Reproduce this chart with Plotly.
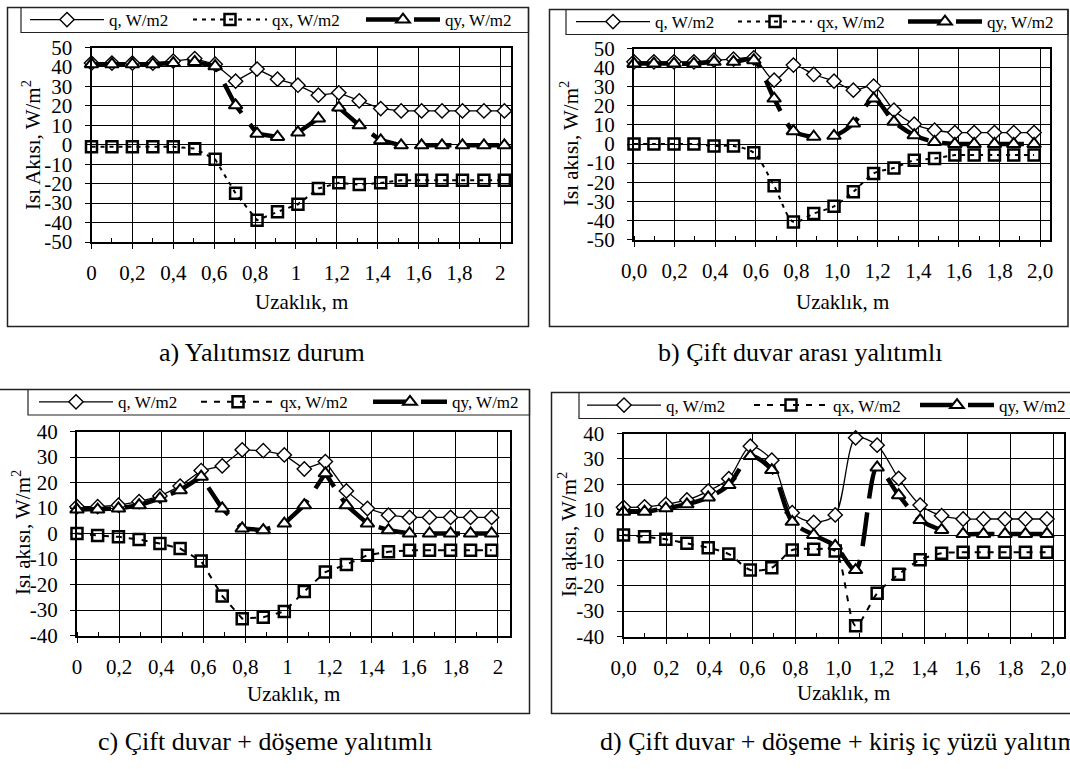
import plotly.graph_objects as go

W, H = 1070, 769
FONT = "Times New Roman, Liberation Serif, serif"

# ---------------- data ----------------
x_a = [0, 0.1, 0.2, 0.3, 0.4, 0.505, 0.605, 0.705, 0.81, 0.91, 1.01,
       1.11, 1.21, 1.31, 1.415, 1.515, 1.615, 1.715, 1.815, 1.92, 2.02]
x_bcd = [0, 0.098, 0.197, 0.295, 0.394, 0.49, 0.59, 0.69, 0.785, 0.885, 0.985,
         1.08, 1.18, 1.28, 1.38, 1.48, 1.58, 1.675, 1.775, 1.87, 1.97]

q_a = [42, 42, 42, 42, 43, 44.3, 41.4, 32.7, 38.9, 33.7, 30.6,
       25.5, 26.7, 22.6, 18.6, 17.4, 17.4, 17.4, 17.4, 17.4, 17.4]
qx_a = [-1, -1, -1, -1, -1, -2, -7.5, -25, -38.8, -34.5, -30.6,
        -22.5, -19.6, -20.5, -19.6, -18.3, -18.3, -18.3, -18.3, -18.3, -18.3]
qy_a = [41.4, 41.4, 41.4, 41.4, 42, 42.6, 40.4, 20.3, 5.7, 4, 6.3,
        13.5, 19.1, 10, 2.3, -0.3, -0.3, -0.3, -0.3, -0.3, -0.3]

q_b = [43, 43, 43, 43, 43.9, 44.4, 45.1, 33.4, 41.3, 36.4, 32.9,
       28.2, 30.3, 17.7, 10.4, 7.2, 6, 6, 6, 6, 6]
qx_b = [0, 0, 0, 0, -1, -1, -4.6, -21.9, -40.8, -36.4, -32.6,
        -25, -15.4, -12.5, -8.5, -7.6, -5.8, -5.8, -5.8, -5.8, -5.8]
qy_b = [42.1, 42.1, 42.1, 42.1, 43, 43, 43.9, 23.8, 6.7, 3.8, 4.3,
        10.7, 23.8, 11.6, 4.6, 1.1, 0, 0, 0, 0, 0]

q_c = [10.5, 10.5, 11.1, 12.5, 14.7, 18.6, 24.7, 26.5, 32.8, 32.5, 30.8,
       25.3, 28.2, 16.7, 9.8, 7.2, 6.3, 6.3, 6.3, 6.3, 6.3]
qx_c = [0, -0.8, -1.3, -2.4, -3.9, -5.9, -10.8, -24.5, -33.4, -32.8, -30.6,
        -22.7, -15.1, -12.2, -8.5, -7.2, -6.6, -6.6, -6.6, -6.6, -6.6]
qy_c = [9.4, 9.4, 9.8, 11.1, 13.8, 17, 22.3, 9.8, 2, 1.3, 3.9,
        11.1, 23.6, 11.1, 3.9, 1.3, 0, 0, 0, 0, 0]

q_d = [10.9, 11.1, 12.1, 13.8, 17.3, 22.2, 35, 29.5, 8.8, 5, 7.9,
       38.3, 35.4, 22.3, 11.8, 7.6, 6.3, 6.3, 6.3, 6.3, 6.3]
qx_d = [0, -0.7, -1.7, -3.3, -5, -7.5, -13.8, -12.9, -5.9, -5.6, -6.3,
        -35.8, -23, -15.5, -9.8, -7.2, -6.8, -6.8, -6.8, -6.8, -6.8]
qy_d = [9.2, 9.2, 10.5, 12.1, 14.8, 19.7, 31.1, 25.6, 5.2, 0, -4.3,
        -13.8, 26.6, 15.7, 5.9, 2, 0.4, 0.4, 0.4, 0.4, 0.4]

series_names = ["q, W/m2", "qx, W/m2", "qy, W/m2"]

x_tickvals = [0, 0.2, 0.4, 0.6, 0.8, 1.0, 1.2, 1.4, 1.6, 1.8, 2.0]
x_ticktext_ac = ["0", "0,2", "0,4", "0,6", "0,8", "1", "1,2", "1,4", "1,6", "1,8", "2"]
x_ticktext_bd = ["0,0", "0,2", "0,4", "0,6", "0,8", "1,0", "1,2", "1,4", "1,6", "1,8", "2,0"]
y_tickvals_ab = [-50, -40, -30, -20, -10, 0, 10, 20, 30, 40, 50]
y_ticktext_ab = ["-50", "-40", "-30", "-20", "-10", "0", "10", "20", "30", "40", "50"]
y_tickvals_cd = [-40, -30, -20, -10, 0, 10, 20, 30, 40]
y_ticktext_cd = ["-40", "-30", "-20", "-10", "0", "10", "20", "30", "40"]

captions = ["a) Yalıtımsız durum", "b) Çift duvar arası yalıtımlı",
            "c) Çift duvar + döşeme yalıtımlı",
            "d) Çift duvar + döşeme + kiriş iç yüzü yalıtımlı"]
x_title = "Uzaklık, m"
y_titles = ["Isı Akısı, W/m<sup>2</sup>", "Isı akısı, W/m<sup>2</sup>",
            "Isı akısı, W/m<sup>2</sup>", "Isı akısı, W/m<sup>2</sup>"]

# ---------------- layout helpers ----------------
def px(x):
    return x / W

def py(y):
    return 1 - y / H

ITEMW = 74

panels = [
    dict(x=x_a, q=q_a, qx=qx_a, qy=qy_a,
         plot=(91.5, 47.5, 510.5, 242), xmax=2.05, yr=(-50, 50), smooth=False,
         xtt=x_ticktext_ac, ytv=y_tickvals_ab, ytt=y_ticktext_ab,
         legbox=(21, 7.5, 528.5, 32.5), legmarks=(67, 230, 403),
         box=(7.5, 7.5, 528.5, 326.5), dash="4px,5px",
         xt=(301, 302), yt=(31, 145), cap=(262, 352, "center")),
    dict(x=x_bcd, q=q_b, qx=qx_b, qy=qy_b,
         plot=(634, 48.5, 1049.5, 239.5), xmax=2.046, yr=(-50, 50), smooth=True,
         xtt=x_ticktext_bd, ytv=y_tickvals_ab, ytt=y_ticktext_ab,
         legbox=(566, 9.5, 1068, 34.5), legmarks=(613, 775, 945),
         box=(549.5, 9.5, 1068, 326.5), dash="4px,5px",
         xt=(842, 302), yt=(569, 144), cap=(800, 352, "center")),
    dict(x=x_bcd, q=q_c, qx=qx_c, qy=qy_c,
         plot=(77, 431.5, 509.5, 635.5), xmax=2.055, yr=(-40, 40), smooth=False,
         xtt=x_ticktext_ac, ytv=y_tickvals_cd, ytt=y_ticktext_cd,
         legbox=(28, 389.5, 529.5, 415), legmarks=(76, 238, 410),
         box=(-5, 389.5, 529.5, 713.5), dash="6px,7px",
         xt=(293, 694), yt=(21, 533), cap=(265, 741, "center")),
    dict(x=x_bcd, q=q_d, qx=qx_d, qy=qy_d,
         plot=(623.5, 433.5, 1063.5, 636.5), xmax=2.047, yr=(-40, 40), smooth=True,
         xtt=x_ticktext_bd, ytv=y_tickvals_cd, ytt=y_ticktext_cd,
         legbox=(579, 392.5, 1085, 418.5), legmarks=(624, 791, 957),
         box=(551.5, 392.5, 1085, 713.5), dash="6px,7px",
         xt=(843, 693), yt=(567, 535), cap=(598, 741, "left")),
]

fig = go.Figure()
layout = dict(
    width=W, height=H,
    margin=dict(l=0, r=0, t=0, b=0, pad=0, autoexpand=False),
    paper_bgcolor="white", plot_bgcolor="white",
    font=dict(family=FONT, color="black", size=21),
    shapes=[], annotations=[], showlegend=True,
)

leg_index = 0
for i, p in enumerate(panels):
    n = "" if i == 0 else str(i + 1)
    xa, ya = "x" + n, "y" + n
    shape = "spline" if p["smooth"] else "linear"
    lb = p["legbox"]
    styles = [
        dict(line=dict(color="black", width=1.3, shape=shape, smoothing=0.8),
             marker=dict(symbol="diamond", size=11, color="white",
                         line=dict(color="black", width=1.4))),
        dict(line=dict(color="black", width=2, dash=p["dash"], shape=shape, smoothing=0.8),
             marker=dict(symbol="square-open", size=11, color="black",
                         line=dict(color="black", width=2.5))),
        dict(line=dict(color="black", width=4.5, dash="34px,14px", shape=shape, smoothing=0.8),
             marker=dict(symbol="triangle-up", size=12, color="white",
                         line=dict(color="black", width=2))),
    ]
    yvals = [p["q"], p["qx"], p["qy"]]
    for k in range(3):
        leg_index += 1
        lname = "legend" if leg_index == 1 else "legend" + str(leg_index)
        fig.add_trace(go.Scatter(
            x=p["x"], y=yvals[k], name=series_names[k],
            xaxis=xa, yaxis=ya, legend=lname, mode="lines+markers",
            cliponaxis=False, **styles[k]))
        layout[lname] = dict(
            x=px(p["legmarks"][k] - 5 - ITEMW / 2), y=py((lb[1] + lb[3]) / 2),
            xanchor="left", yanchor="middle", orientation="h",
            borderwidth=0, bgcolor="rgba(0,0,0,0)",
            font=dict(family=FONT, size=17, color="black"),
            itemwidth=ITEMW, itemclick=False, itemdoubleclick=False,
        )

    x0, y0, x1, y1 = p["plot"]
    layout["xaxis" + n] = dict(
        domain=[px(x0), px(x1)], anchor=ya, range=[0, p["xmax"]],
        tickmode="array", tickvals=x_tickvals, ticktext=p["xtt"],
        showgrid=True, gridcolor="black", gridwidth=1, zeroline=False,
        showline=True, mirror=True, linecolor="black", linewidth=2,
        ticks="outside", ticklen=5, tickwidth=1, tickcolor="black",
        ticklabelstandoff=6,
        tickfont=dict(family=FONT, size=21, color="black"),
        minor=dict(tickmode="linear", tick0=0, dtick=0.1, ticks="inside",
                   ticklen=4, tickwidth=1, tickcolor="black", showgrid=False),
        fixedrange=True,
    )
    layout["yaxis" + n] = dict(
        domain=[py(y1), py(y0)], anchor=xa, range=list(p["yr"]),
        tickmode="array", tickvals=p["ytv"], ticktext=p["ytt"],
        showgrid=True, gridcolor="black", gridwidth=1, zeroline=False,
        showline=True, mirror=True, linecolor="black", linewidth=2,
        ticks="outside", ticklen=5, tickwidth=1, tickcolor="black",
        ticklabelstandoff=8,
        tickfont=dict(family=FONT, size=21, color="black"),
        fixedrange=True,
    )
    bx0, by0, bx1, by1 = p["box"]
    layout["shapes"].append(dict(
        type="rect", xref="paper", yref="paper", layer="below",
        x0=px(bx0), x1=px(bx1), y0=py(by1), y1=py(by0),
        line=dict(color="#222", width=1.5), fillcolor="rgba(0,0,0,0)"))
    layout["shapes"].append(dict(
        type="rect", xref="paper", yref="paper", layer="below",
        x0=px(lb[0]), x1=px(lb[2]), y0=py(lb[3]), y1=py(lb[1]),
        line=dict(color="#222", width=1.2), fillcolor="rgba(0,0,0,0)"))
    tx, ty = p["xt"]
    layout["annotations"].append(dict(
        text=x_title, xref="paper", yref="paper", x=px(tx), y=py(ty),
        xanchor="center", yanchor="middle", showarrow=False,
        font=dict(family=FONT, size=21, color="black")))
    yx, yy = p["yt"]
    layout["annotations"].append(dict(
        text=y_titles[i], xref="paper", yref="paper", x=px(yx), y=py(yy),
        xanchor="center", yanchor="middle", showarrow=False, textangle=-90,
        font=dict(family=FONT, size=21, color="black")))
    cx, cy, canchor = p["cap"]
    layout["annotations"].append(dict(
        text=captions[i], xref="paper", yref="paper", x=px(cx), y=py(cy),
        xanchor=canchor, yanchor="middle", showarrow=False,
        font=dict(family=FONT, size=26, color="black")))

fig.update_layout(**layout)
fig.write_html("out.html", include_plotlyjs=True, config={"displayModeBar": False})
